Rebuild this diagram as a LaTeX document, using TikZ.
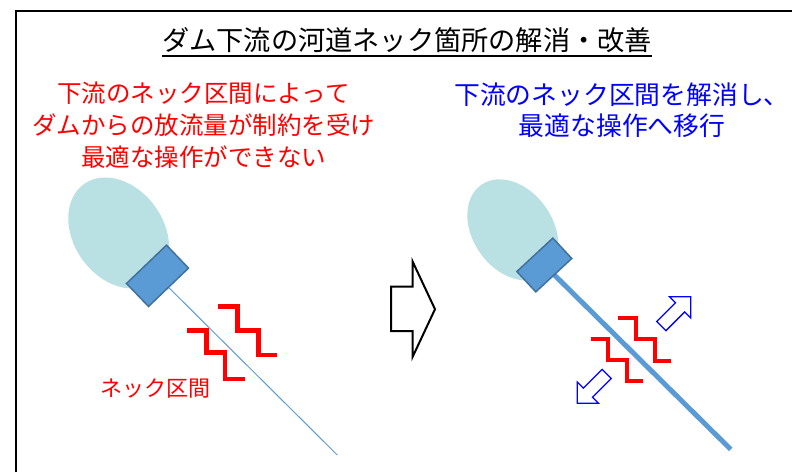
\documentclass[tikz,border=0pt]{standalone}
\usepackage{fontspec}
\newfontfamily\jp{Noto Sans CJK JP}
\usetikzlibrary{shapes.geometric}
\definecolor{lake}{HTML}{B9E0E3}
\definecolor{damfill}{HTML}{5B9BD5}
\definecolor{damline}{HTML}{41719C}
\definecolor{river}{HTML}{5B9BD5}
\definecolor{redtxt}{HTML}{FF0000}
\definecolor{bluetxt}{HTML}{0000FF}
\begin{document}
\begin{tikzpicture}[x=1pt,y=1pt,
  lakeshape/.style={ellipse, fill=lake, inner sep=0pt, draw=none},
  damshape/.style={rectangle, fill=damfill, draw=damline, line width=1.5pt, inner sep=0pt},
  zigzag/.style={draw=redtxt, line width=4.5pt, miter limit=10},
  riverthin/.style={draw=river, line width=1pt},
  riverthick/.style={draw=river, line width=5pt},
  blockarrow/.pic={\draw[bluetxt, fill=white, line width=1.3pt, line join=miter]
     (0,0) -- (-15,15) -- (-15,6.5) -- (-41.5,6.5) -- (-41.5,-6.5) -- (-15,-6.5) -- (-15,-15) -- cycle;},
  txt/.style={inner sep=0pt, align=center}
]
\useasboundingbox (0,0) rectangle (792,-472);
% frame
\draw[line width=1.8pt] (16,-472) -- (16,-11) -- (792,-11);

% title
\node[txt, anchor=base, font=\jp\fontsize{27.2}{30}\selectfont] (title) at (407,-50.5) {ダム下流の河道ネック箇所の解消・改善};
\draw[line width=1.3pt] ([yshift=-5.5pt]title.base west) -- ([yshift=-5.5pt]title.base east);

% left texts
\node[txt, text=redtxt, font=\jp\fontsize{24.5}{32}\selectfont] (redtext) at (203.5,-125.5)
  {下流のネック区間によって\\ダムからの放流量が制約を受け\\最適な操作ができない};
\node[txt, text=bluetxt, font=\jp\fontsize{25.8}{31}\selectfont] (bluetext) at (622,-110.5)
  {下流のネック区間を解消し、\\最適な操作へ移行};

% left diagram
\node[lakeshape, minimum width=120pt, minimum height=90pt, rotate=-55] (lakeL) at (118.7,-233) {};
\node[damshape, minimum width=55.4pt, minimum height=31.8pt, rotate=43.8] (damL) at (157.5,-275.8) {};
\coordinate (endL) at (337.3,-455);
\draw[riverthin] (damL.south) -- (endL);
\draw[zigzag] (218.3,-306.7) -- (237.3,-306.7) -- (237.3,-330.7) -- (258.3,-330.7) -- (258.3,-355) -- (277.3,-355);
\draw[zigzag] (186.7,-330.7) -- (206.3,-330.7) -- (206.3,-352.7) -- (225,-352.7) -- (225,-379) -- (245,-379);
\node[txt, text=redtxt, font=\jp\fontsize{22}{26}\selectfont] (necklabel) at (155,-389) {ネック区間};

% middle arrow
\draw[line width=2pt, line join=miter, fill=white] (391,-286.7) -- (412.7,-286.7) -- (412.7,-261.7) -- (435,-309.2)
   -- (412.7,-356.7) -- (412.7,-331) -- (391,-331) -- cycle;

% right diagram
\node[lakeshape, minimum width=110pt, minimum height=80pt, rotate=-55] (lakeR) at (512.8,-229.9) {};
\coordinate (endR) at (730.7,-449.3);
\draw[riverthick] (544.3,-265) -- (endR);
\node[damshape, minimum width=49.1pt, minimum height=27.8pt, rotate=42.9] (damR) at (544.3,-265) {};
\draw[zigzag, line width=4.2pt] (618.3,-317.7) -- (636,-317.7) -- (636,-338.7) -- (655,-338.7) -- (655,-360.7) -- (670.7,-360.7);
\draw[zigzag, line width=4.2pt] (590.7,-338.7) -- (608.3,-338.7) -- (608.3,-360.3) -- (626.7,-360.3) -- (626.7,-381.3) -- (643.3,-381.3);
\pic[rotate=45] at (690.7,-296.7) {blockarrow};
\pic[rotate=225] at (577.3,-403.3) {blockarrow};
\end{tikzpicture}
\end{document}
